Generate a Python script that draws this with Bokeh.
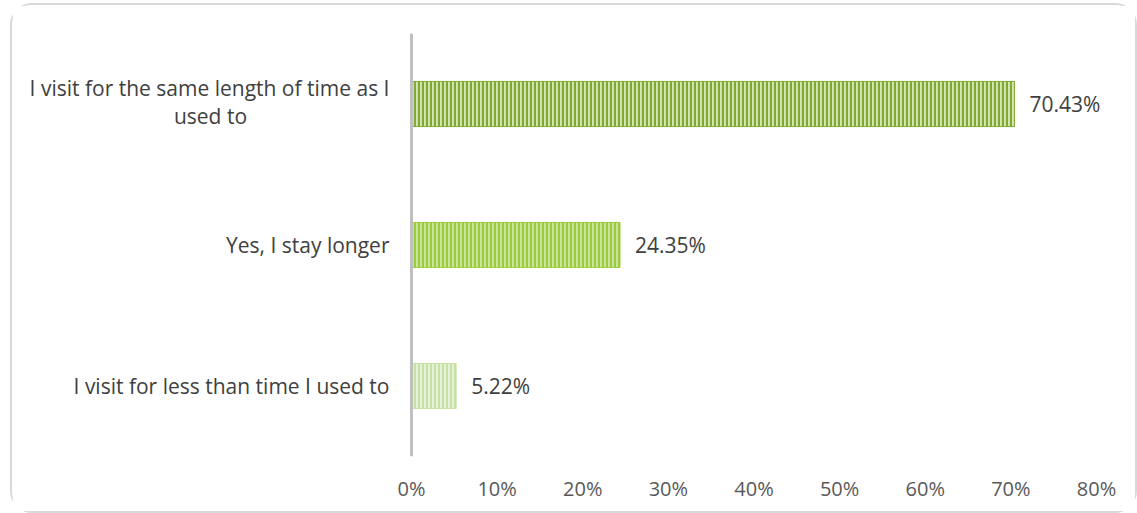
from bokeh.plotting import figure
from bokeh.models import (ColumnDataSource, FactorRange, Range1d, FixedTicker,
                          NumeralTickFormatter, LabelSet, Span)
from bokeh.core.properties import value
from bokeh.embed import file_html
from bokeh.resources import INLINE

categories = ["I visit for less than time I used to",
              "Yes, I stay longer",
              "I visit for the same length of time as I\nused to"]
values = [0.0522, 0.2435, 0.7043]
labels = ["5.22%", "24.35%", "70.43%"]
fill_colors = ["#E7F2DA", "#CBE49F", "#D3E6B3"]
hatch_colors = ["#C6E1A3", "#9CCB3C", "#80AA33"]
x_ticks = [0, 0.1, 0.2, 0.3, 0.4, 0.5, 0.6, 0.7, 0.8]
x_max = 0.8

FONT = "Open Sans"
LABEL_STANDOFF = 22
FIRST_LINE_WIDTH = 358
GUTTER_PX = 394      # room for the category labels, left of the 0% line
RIGHT_PX = 28        # room right of the 80% position, so value labels are not clipped
PLOT_PX = 685        # width of the 0%..80% span

x_start = -x_max * GUTTER_PX / PLOT_PX
x_end = x_max + x_max * RIGHT_PX / PLOT_PX

src = ColumnDataSource(dict(cat=categories, val=values, lab=labels,
                            fc=fill_colors, hc=hatch_colors))

p = figure(width=1127, height=510, y_range=FactorRange(*categories, range_padding=0),
           x_range=Range1d(x_start, x_end), output_backend="svg", toolbar_location=None,
           min_border_left=5, min_border_right=15, min_border_top=28, min_border_bottom=59)
p.styles = {"border": "2px solid #D9D9D9", "border-radius": "22px",
            "box-sizing": "border-box", "margin-left": "10px", "margin-top": "3px"}
p.outline_line_color = None
p.xgrid.grid_line_color = None
p.ygrid.grid_line_color = None
p.background_fill_color = "white"
p.border_fill_color = "white"

p.hbar(y="cat", right="val", left=0, height=0.32, source=src,
       fill_color="fc", line_color="hc", line_width=1,
       hatch_pattern="vertical_line", hatch_color="hc", hatch_scale=4, hatch_weight=2.2)

p.add_layout(LabelSet(x="val", y="cat", text="lab", source=src, x_offset=15,
                      text_baseline="middle", text_align="left", text_color="#404040",
                      text_font=value(FONT), text_font_size="21px"))

# category labels (the two-line label is centred line by line, as in the original)
rows = dict(x=[], y=[], text=[])
first_rows = dict(x=[], y=[], text=[])
second_rows = dict(x=[], y=[], text=[])
for c in categories:
    parts = c.split("\n")
    if len(parts) == 1:
        rows["x"].append(0); rows["y"].append(c); rows["text"].append(c)
    else:
        first_rows["x"].append(0); first_rows["y"].append(c); first_rows["text"].append(parts[0])
        second_rows["x"].append(0); second_rows["y"].append(c); second_rows["text"].append(parts[1])

common = dict(text_baseline="middle", text_color="#404040",
              text_font=value(FONT), text_font_size="21px")
p.add_layout(LabelSet(x="x", y="y", text="text", source=ColumnDataSource(rows),
                      x_offset=-LABEL_STANDOFF, text_align="right", **common))
p.add_layout(LabelSet(x="x", y="y", text="text", source=ColumnDataSource(first_rows),
                      x_offset=-LABEL_STANDOFF, y_offset=16, text_align="right", **common))
p.add_layout(LabelSet(x="x", y="y", text="text", source=ColumnDataSource(second_rows),
                      x_offset=-(LABEL_STANDOFF + FIRST_LINE_WIDTH / 2), y_offset=-12,
                      text_align="center", **common))

p.add_layout(Span(location=0, dimension="height", line_color="#BFBFBF", line_width=3))

p.xaxis.ticker = FixedTicker(ticks=x_ticks)
p.xaxis.formatter = NumeralTickFormatter(format="0%")
p.xaxis.axis_line_color = None
p.xaxis.major_tick_line_color = None
p.xaxis.minor_tick_line_color = None
p.xaxis.major_label_text_font = FONT
p.xaxis.major_label_text_font_size = "20px"
p.xaxis.major_label_text_color = "#595959"
p.xaxis.major_label_standoff = 12

p.yaxis.visible = False

open("out.html", "w").write(file_html(p, INLINE))
